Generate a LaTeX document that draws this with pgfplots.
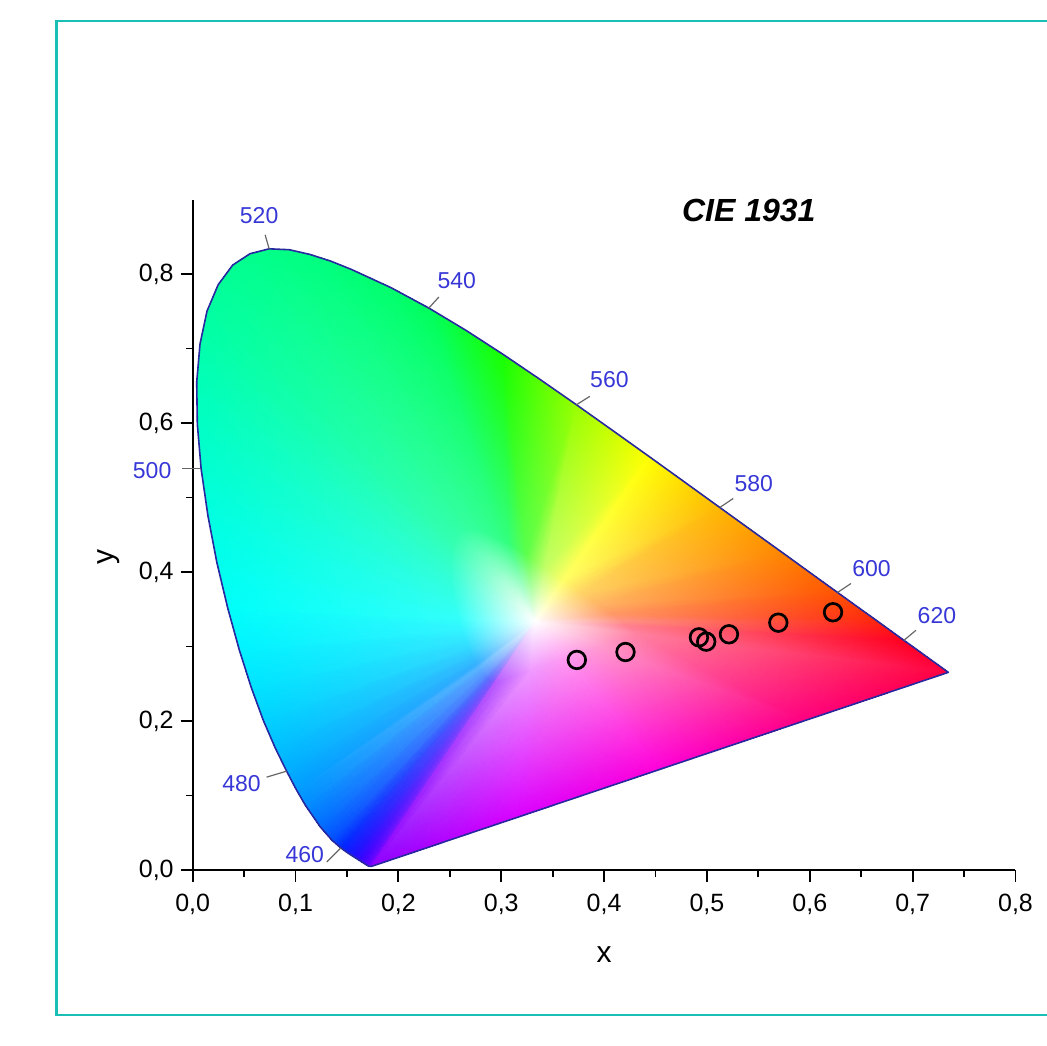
\documentclass[border=0pt]{standalone}
\usepackage{fontspec}
\setmainfont{Liberation Sans}
\usepackage{pgfplots}
\usepackage{pgfplotstable}
\pgfplotsset{compat=1.18}
\definecolor{framec}{RGB}{25,190,180}
\definecolor{wlblue}{RGB}{55,55,215}
\definecolor{locusc}{RGB}{40,40,160}

% spectral locus, CIE 1931 2 deg, closed by the purple line
\pgfplotstableread{
x y
0.1741 0.0050
0.1740 0.0050
0.1738 0.0049
0.1736 0.0049
0.1733 0.0048
0.1730 0.0048
0.1726 0.0048
0.1721 0.0048
0.1714 0.0051
0.1703 0.0058
0.1689 0.0069
0.1669 0.0086
0.1644 0.0109
0.1611 0.0138
0.1566 0.0177
0.1510 0.0227
0.1440 0.0297
0.1355 0.0399
0.1241 0.0578
0.1096 0.0868
0.1010 0.1073
0.0913 0.1327
0.0803 0.1637
0.0687 0.2007
0.0570 0.2447
0.0454 0.2950
0.0340 0.3519
0.0235 0.4127
0.0148 0.4756
0.0082 0.5384
0.0045 0.5985
0.0039 0.6548
0.0071 0.7059
0.0139 0.7502
0.0248 0.7857
0.0389 0.8120
0.0557 0.8272
0.0743 0.8338
0.0939 0.8326
0.1142 0.8262
0.1346 0.8171
0.1547 0.8059
0.1929 0.7816
0.2296 0.7543
0.2658 0.7243
0.3016 0.6923
0.3373 0.6589
0.3731 0.6245
0.4087 0.5896
0.4441 0.5547
0.4788 0.5202
0.5125 0.4866
0.5448 0.4544
0.5752 0.4242
0.6029 0.3965
0.6270 0.3725
0.6482 0.3514
0.6658 0.3340
0.6801 0.3197
0.6915 0.3083
0.7006 0.2993
0.7079 0.2920
0.7140 0.2859
0.7190 0.2809
0.7230 0.2770
0.7260 0.2740
0.7300 0.2700
0.7320 0.2680
0.7334 0.2666
0.7347 0.2653
0.1741 0.0050
}\locus

% colour mesh: white point (0), outer ring on the locus (1-46), inner ring (47-92)
\pgfplotstableread{
x y c
0.3333 0.3333 rgb=1,1,1
0.1741 0.0050 rgb=0.55,0,1
0.1714 0.0051 rgb=0.45,0,1
0.1689 0.0069 rgb=0.35,0,1
0.1644 0.0109 rgb=0.25,0,1
0.1566 0.0177 rgb=0.12,0.05,1
0.1440 0.0297 rgb=0,0.15,1
0.1355 0.0399 rgb=0,0.3,1
0.1241 0.0578 rgb=0,0.42,1
0.1096 0.0868 rgb=0,0.55,1
0.1010 0.1073 rgb=0,0.61,1
0.0913 0.1327 rgb=0,0.68,1
0.0803 0.1637 rgb=0,0.75,1
0.0687 0.2007 rgb=0,0.82,1
0.0570 0.2447 rgb=0,0.89,1
0.0454 0.2950 rgb=0,0.95,1
0.0340 0.3519 rgb=0,1,0.98
0.0235 0.4127 rgb=0,1,0.93
0.0148 0.4756 rgb=0,1,0.88
0.0082 0.5384 rgb=0,1,0.82
0.0045 0.5985 rgb=0,1,0.77
0.0039 0.6548 rgb=0,1,0.72
0.0071 0.7059 rgb=0,1,0.67
0.0139 0.7502 rgb=0,1,0.63
0.0248 0.7857 rgb=0,1,0.6
0.0389 0.8120 rgb=0,1,0.57
0.0557 0.8272 rgb=0,1,0.55
0.0743 0.8338 rgb=0,1,0.53
0.0939 0.8326 rgb=0,1,0.51
0.1142 0.8262 rgb=0,1,0.5
0.1346 0.8171 rgb=0,1,0.48
0.1547 0.8059 rgb=0,1,0.46
0.1929 0.7816 rgb=0,1,0.42
0.2296 0.7543 rgb=0,1,0.36
0.3016 0.6923 rgb=0.1,1,0
0.3731 0.6245 rgb=0.6,1,0
0.4441 0.5547 rgb=1,1,0
0.5125 0.4866 rgb=1,0.72,0
0.5752 0.4242 rgb=1,0.52,0
0.6270 0.3725 rgb=1,0.33,0
0.6658 0.3340 rgb=1,0.15,0.05
0.6915 0.3083 rgb=1,0,0.12
0.7190 0.2809 rgb=1,0,0.2
0.7347 0.2653 rgb=1,0,0.25
0.5946 0.2002 rgb=1,0,0.5
0.4544 0.1352 rgb=1,0,0.85
0.3143 0.0701 rgb=0.85,0,1
0.2935 0.2513 rgb=0.71,0.35,1
0.2929 0.2513 rgb=0.64,0.35,1
0.2922 0.2517 rgb=0.58,0.35,1
0.2911 0.2527 rgb=0.51,0.35,1
0.2892 0.2544 rgb=0.43,0.38,1
0.2860 0.2574 rgb=0.35,0.45,1
0.2839 0.2600 rgb=0.35,0.545,1
0.2810 0.2645 rgb=0.35,0.62,1
0.2774 0.2717 rgb=0.35,0.71,1
0.2753 0.2768 rgb=0.2,0.69,1
0.2728 0.2832 rgb=0.2,0.74,1
0.2701 0.2909 rgb=0.2,0.8,1
0.2672 0.3002 rgb=0.2,0.86,1
0.2643 0.3112 rgb=0.2,0.91,1
0.2614 0.3238 rgb=0.2,0.96,1
0.2585 0.3380 rgb=0.2,1,0.98
0.2559 0.3532 rgb=0.2,1,0.94
0.2537 0.3689 rgb=0.2,1,0.9
0.2521 0.3846 rgb=0.2,1,0.86
0.2511 0.3996 rgb=0.2,1,0.82
0.2510 0.4137 rgb=0.2,1,0.78
0.2518 0.4265 rgb=0.2,1,0.74
0.2535 0.4376 rgb=0.2,1,0.7
0.2562 0.4464 rgb=0.2,1,0.68
0.2597 0.4530 rgb=0.2,1,0.66
0.2639 0.4568 rgb=0.2,1,0.64
0.2686 0.4585 rgb=0.2,1,0.62
0.2735 0.4582 rgb=0.2,1,0.61
0.2786 0.4566 rgb=0.2,1,0.6
0.2837 0.4543 rgb=0.2,1,0.58
0.2887 0.4515 rgb=0.2,1,0.57
0.2982 0.4454 rgb=0.2,1,0.54
0.3074 0.4386 rgb=0.2,1,0.49
0.3254 0.4231 rgb=0.37,1,0.3
0.3433 0.4061 rgb=0.76,1,0.4
0.3610 0.3887 rgb=1,1,0.4
0.3781 0.3717 rgb=1,0.83,0.4
0.3938 0.3561 rgb=1,0.71,0.4
0.4068 0.3431 rgb=1,0.6,0.4
0.4165 0.3335 rgb=1,0.575,0.525
0.4229 0.3271 rgb=1,0.5,0.56
0.4298 0.3202 rgb=1,0.5,0.6
0.4337 0.3163 rgb=1,0.5,0.625
0.3987 0.3001 rgb=1,0.6,0.8
0.3636 0.2838 rgb=1,0.6,0.94
0.3286 0.2675 rgb=0.94,0.6,1
}\verts

\begin{document}
\begin{tikzpicture}
\begin{axis}[
  at={(0pt,0pt)}, anchor=south west,
  scale only axis, width=411.4pt, height=335.25pt,
  xmin=0, xmax=0.8, ymin=0, ymax=0.9,
  axis lines*=left,
  axis line style={line width=1pt, black},
  tick align=outside,
  xtick={0,0.1,...,0.8}, ytick={0,0.2,...,0.8},
  minor x tick num=1, minor y tick num=1,
  major tick length=6pt, minor tick length=3.5pt,
  tick style={black, line width=0.9pt},
  /pgf/number format/assume math mode=true,
  /pgf/number format/.cd, fixed, fixed zerofill, precision=1, use comma,
  /pgfplots/.cd,
  tick label style={font=\fontsize{12.5}{14}\selectfont, black},
  xticklabel style={yshift=-2.5pt},
  xlabel={x}, ylabel={y},
  every axis x label/.style={at={(axis description cs:0.5,0)}, anchor=center,
     yshift=-42.4pt, font=\fontsize{15}{17}\selectfont},
  every axis y label/.style={at={([xshift=-42.2pt]axis description cs:0,0.467)},
     anchor=center, rotate=90, font=\fontsize{15}{17}\selectfont},
  clip=false,
]
\addplot[patch, shader=interp, table/row sep=\\,
  mesh/color input=explicit, point meta=explicit symbolic,
  patch table={
0 47 48 \\ 47 1 2 \\ 47 2 48 \\
0 48 49 \\ 48 2 3 \\ 48 3 49 \\
0 49 50 \\ 49 3 4 \\ 49 4 50 \\
0 50 51 \\ 50 4 5 \\ 50 5 51 \\
0 51 52 \\ 51 5 6 \\ 51 6 52 \\
0 52 53 \\ 52 6 7 \\ 52 7 53 \\
0 53 54 \\ 53 7 8 \\ 53 8 54 \\
0 54 55 \\ 54 8 9 \\ 54 9 55 \\
0 55 56 \\ 55 9 10 \\ 55 10 56 \\
0 56 57 \\ 56 10 11 \\ 56 11 57 \\
0 57 58 \\ 57 11 12 \\ 57 12 58 \\
0 58 59 \\ 58 12 13 \\ 58 13 59 \\
0 59 60 \\ 59 13 14 \\ 59 14 60 \\
0 60 61 \\ 60 14 15 \\ 60 15 61 \\
0 61 62 \\ 61 15 16 \\ 61 16 62 \\
0 62 63 \\ 62 16 17 \\ 62 17 63 \\
0 63 64 \\ 63 17 18 \\ 63 18 64 \\
0 64 65 \\ 64 18 19 \\ 64 19 65 \\
0 65 66 \\ 65 19 20 \\ 65 20 66 \\
0 66 67 \\ 66 20 21 \\ 66 21 67 \\
0 67 68 \\ 67 21 22 \\ 67 22 68 \\
0 68 69 \\ 68 22 23 \\ 68 23 69 \\
0 69 70 \\ 69 23 24 \\ 69 24 70 \\
0 70 71 \\ 70 24 25 \\ 70 25 71 \\
0 71 72 \\ 71 25 26 \\ 71 26 72 \\
0 72 73 \\ 72 26 27 \\ 72 27 73 \\
0 73 74 \\ 73 27 28 \\ 73 28 74 \\
0 74 75 \\ 74 28 29 \\ 74 29 75 \\
0 75 76 \\ 75 29 30 \\ 75 30 76 \\
0 76 77 \\ 76 30 31 \\ 76 31 77 \\
0 77 78 \\ 77 31 32 \\ 77 32 78 \\
0 78 79 \\ 78 32 33 \\ 78 33 79 \\
0 79 80 \\ 79 33 34 \\ 79 34 80 \\
0 80 81 \\ 80 34 35 \\ 80 35 81 \\
0 81 82 \\ 81 35 36 \\ 81 36 82 \\
0 82 83 \\ 82 36 37 \\ 82 37 83 \\
0 83 84 \\ 83 37 38 \\ 83 38 84 \\
0 84 85 \\ 84 38 39 \\ 84 39 85 \\
0 85 86 \\ 85 39 40 \\ 85 40 86 \\
0 86 87 \\ 86 40 41 \\ 86 41 87 \\
0 87 88 \\ 87 41 42 \\ 87 42 88 \\
0 88 89 \\ 88 42 43 \\ 88 43 89 \\
0 89 90 \\ 89 43 44 \\ 89 44 90 \\
0 90 91 \\ 90 44 45 \\ 90 45 91 \\
0 91 92 \\ 91 45 46 \\ 91 46 92 \\
0 92 47 \\ 92 46 1 \\ 92 1 47 \\
  }]
  table[x=x, y=y, meta=c] {\verts};

\addplot[draw=locusc, line width=0.8pt, no marks, line join=round] table[x=x,y=y] {\locus};

\addplot[only marks, mark=o, mark size=4.4pt, black, mark options={line width=1.35pt}]
coordinates {
(0.3735,0.2820) (0.4208,0.2926) (0.4922,0.3123) (0.4993,0.3065)
(0.5214,0.3164) (0.5694,0.3320) (0.6226,0.3460)
};

\tikzset{leader/.style={draw=black!60, line width=0.6pt},
         wl/.style={text=wlblue, font=\fontsize{11.5}{13}\selectfont}}
\draw[leader] (axis cs:0.0743,0.8338) -- ++(-2pt,7pt);
\node[wl] at ([shift={(-5pt,16.5pt)}]axis cs:0.0743,0.8338) {520};
\draw[leader] (axis cs:0.2296,0.7543) -- ++(5pt,5.5pt);
\node[wl] at ([shift={(14pt,13.5pt)}]axis cs:0.2296,0.7543) {540};
\draw[leader] (axis cs:0.3731,0.6245) -- ++(6.7pt,4.2pt);
\node[wl] at ([shift={(16.5pt,12.5pt)}]axis cs:0.3731,0.6245) {560};
\draw[leader] (axis cs:0.5125,0.4866) -- ++(6.7pt,4.5pt);
\node[wl] at ([shift={(17pt,12pt)}]axis cs:0.5125,0.4866) {580};
\draw[leader] (axis cs:0.6270,0.3725) -- ++(6.7pt,4.5pt);
\node[wl] at ([shift={(17pt,12pt)}]axis cs:0.6270,0.3725) {600};
\draw[leader] (axis cs:0.6915,0.3083) -- ++(6pt,5pt);
\node[wl] at ([shift={(16.5pt,12.5pt)}]axis cs:0.6915,0.3083) {620};
\draw[leader] (axis cs:0.0082,0.5384) -- ++(-9.5pt,0pt);
\node[wl] at ([shift={(-24.5pt,-1pt)}]axis cs:0.0082,0.5384) {500};
\draw[leader] (axis cs:0.0913,0.1327) -- ++(-10pt,-3pt);
\node[wl] at ([shift={(-22.5pt,-6pt)}]axis cs:0.0913,0.1327) {480};
\draw[leader] (axis cs:0.1440,0.0297) -- ++(-7pt,-7pt);
\node[wl] at ([shift={(-18pt,-3.5pt)}]axis cs:0.1440,0.0297) {460};

\node[anchor=base, font=\bfseries\itshape\fontsize{16}{18}\selectfont]
  at (axis cs:0.5407,0.8711) {CIE 1931};
\end{axis}
\draw[framec, line width=1.2pt] (432pt,424.5pt) -- (-68.1pt,424.5pt) -- (-68.1pt,-72.5pt) -- (432pt,-72.5pt);
\pgfresetboundingbox
\useasboundingbox (-96.35pt,-87.5pt) rectangle (427.15pt,435pt);
\end{tikzpicture}
\end{document}
